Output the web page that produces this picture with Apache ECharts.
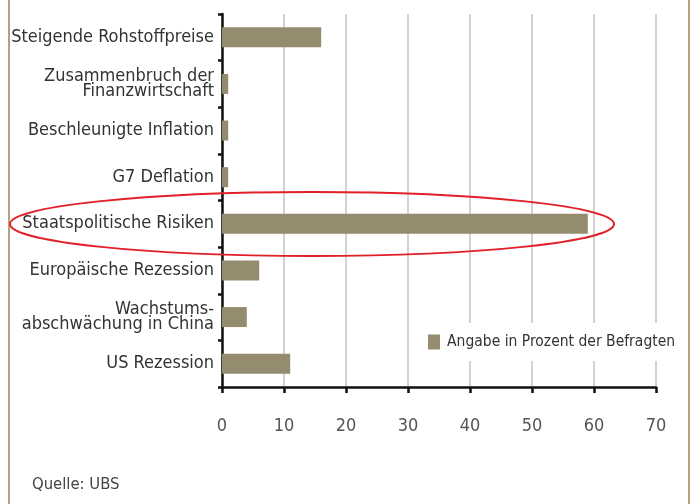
<!DOCTYPE html>
<html>
<head>
<meta charset="utf-8">
<script src="https://cdn.jsdelivr.net/npm/echarts@6/dist/echarts.min.js"></script>
<style>
  html, body { margin: 0; padding: 0; background: #fff; }
  #main { width: 693px; height: 504px; }
</style>
</head>
<body>
<div id="main"></div>
<script>
// Risks named by respondents (share in percent)
const categories = [
    "Steigende Rohstoffpreise",
    "Zusammenbruch der\nFinanzwirtschaft",
    "Beschleunigte Inflation",
    "G7 Deflation",
    "Staatspolitische Risiken",
    "Europäische Rezession",
    "Wachstums-\nabschwächung in China",
    "US Rezession"
];
const shares = [16, 1, 1, 1, 59, 6, 4, 11];
const seriesName = "Angabe in Prozent der Befragten";
const sourceNote = "Quelle: UBS";

const font = '"Liberation Sans Narrow", "DejaVu Sans Condensed", "Roboto", sans-serif';
const barColor = "#958b6e";

const chart = echarts.init(document.getElementById("main"));

const options = {
    animation: false,
    textStyle: { fontFamily: font },
    grid: {
        left: 222,
        right: 37,
        top: 14,
        bottom: 117,
        outerBoundsMode: "none"
    },
    legend: {
        left: 420,
        top: 323,
        padding: [11, 8, 11, 8],
        backgroundColor: "#fff",
        icon: "rect",
        itemWidth: 12,
        itemHeight: 15,
        itemGap: 6,
        textStyle: { fontSize: 15.5, color: "#333", fontFamily: font, padding: [0, 0, 0, 2] },
        data: [seriesName]
    },
    xAxis: {
        type: "value",
        min: 0,
        max: 70,
        interval: 10,
        axisLine: { show: true, lineStyle: { color: "#111", width: 2.5 } },
        axisTick: { show: true, length: 6, lineStyle: { color: "#111", width: 2.5 } },
        axisLabel: { margin: 30, fontSize: 18, color: "#555", fontFamily: font },
        splitLine: { show: true, lineStyle: { color: "#d2d2d2", width: 2 } }
    },
    yAxis: {
        type: "category",
        inverse: true,
        data: categories,
        axisLine: { show: true, lineStyle: { color: "#111", width: 2.5 } },
        axisTick: { show: true, length: 4, lineStyle: { color: "#111", width: 2.5 } },
        axisLabel: {
            margin: 8,
            fontSize: 18,
            lineHeight: 15,
            color: "#333",
            fontFamily: font
        },
        splitLine: { show: false }
    },
    series: [
        {
            name: seriesName,
            type: "bar",
            color: barColor,
            barWidth: 20,
            data: shares
        }
    ],
    graphic: [
        {
            // left and right frame lines
            type: "rect",
            shape: { x: 8, y: 0, width: 2, height: 504 },
            style: { fill: "#b3a27c" },
            z: 10
        },
        {
            type: "rect",
            shape: { x: 688, y: 0, width: 2, height: 504 },
            style: { fill: "#b3a27c" },
            z: 10
        },
        {
            // highlight ring
            type: "ellipse",
            shape: { cx: 312, cy: 224, rx: 302, ry: 32 },
            style: { fill: "none", stroke: "#e3202a", lineWidth: 2 },
            z: 10
        },
        {
            type: "text",
            left: 32,
            top: 476,
            style: { text: sourceNote, fontSize: 16.5, fill: "#444", fontFamily: font },
            z: 10
        }
    ]
};

chart.setOption(options);
</script>
</body>
</html>
